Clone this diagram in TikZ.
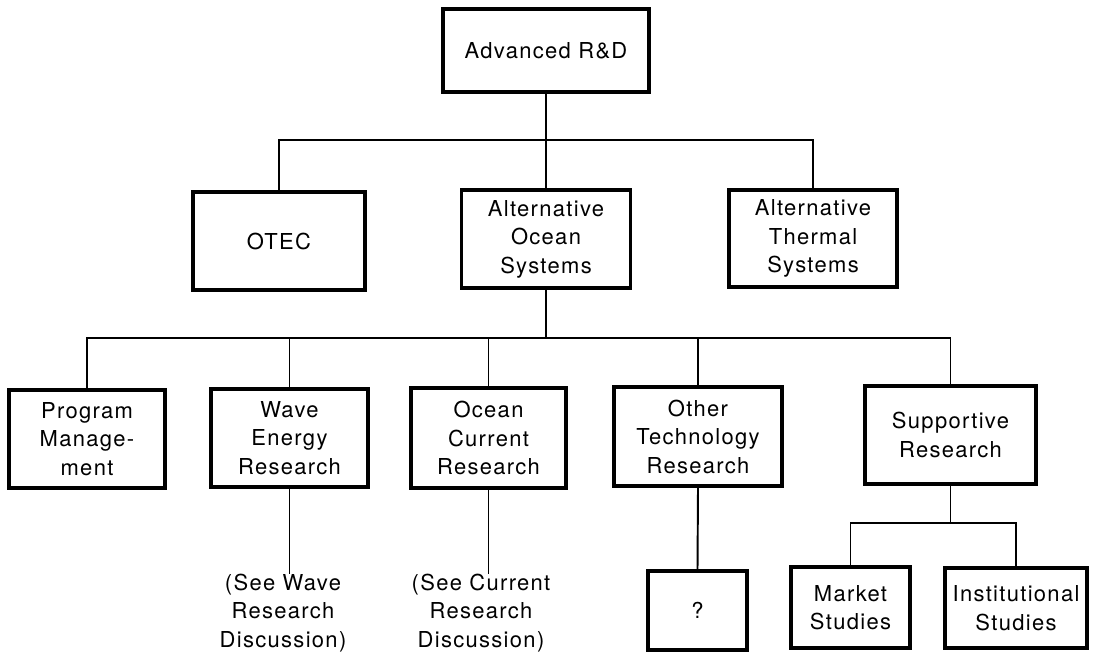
\documentclass[tikz,border=0pt]{standalone}
\usepackage{fontspec}
\setmainfont{TeX Gyre Heros}[LetterSpace=6]
\begin{document}
\begin{tikzpicture}[x=0.02cm,y=-0.02cm,
    box/.style={draw, line width=1.8pt, align=center, inner sep=0pt,
                font=\fontsize{12.5}{16.2}\selectfont},
    note/.style={align=center, inner sep=0pt, font=\fontsize{12.5}{16.2}\selectfont},
    link/.style={line width=1.1pt}]
\useasboundingbox (0,0) rectangle (1095,652);

% top
\node[box, minimum width=4.12cm, minimum height=1.66cm] (rd) at (546,50.5) {Advanced R\&D};

% second row
\node[box, minimum width=3.44cm, minimum height=1.96cm] (otec) at (279,241) {OTEC};
\node[box, minimum width=3.38cm, minimum height=1.96cm] (aos) at (546,239) {Alternative\\Ocean\\Systems};
\node[box, minimum width=3.36cm, minimum height=1.94cm] (ats) at (813,238.5) {Alternative\\Thermal\\Systems};

% third row
\node[box, minimum width=3.12cm, minimum height=1.96cm] (prog) at (87,439) {Program\\Manage-\\ment};
\node[box, minimum width=3.14cm, minimum height=1.96cm] (wave) at (289.5,438) {Wave\\Energy\\Research};
\node[box, minimum width=3.10cm, minimum height=2.00cm] (ocur) at (488.5,438) {Ocean\\Current\\Research};
\node[box, minimum width=3.36cm, minimum height=1.98cm] (other) at (698,436.5) {Other\\Technology\\Research};
\node[box, minimum width=3.42cm, minimum height=1.96cm] (supp) at (950.5,435) {Supportive\\Research};

% bottom row
\node[note] (seewave) at (283,613) {(See Wave\\Research\\Discussion)};
\node[note] (seecur) at (481,613) {(See Current\\Research\\Discussion)};
\node[box, minimum width=1.98cm, minimum height=1.58cm] (unknown) at (697.5,610.5) {?};
\node[box, minimum width=2.38cm, minimum height=1.62cm] (market) at (850.5,607.5) {Market\\Studies};
\node[box, minimum width=2.84cm, minimum height=1.60cm] (inst) at (1016,608) {Institutional\\Studies};

% buses
\coordinate (busA) at (546,140);
\coordinate (busB) at (546,338);
\coordinate (busC) at (946,523);

% connections
\draw[link] (rd.south) -- (aos.north);
\draw[link] (otec.north) |- (busA) -| (ats.north);

\draw[link] (aos.south) -- (busB);
\draw[link] (prog.north) |- (busB) -| (supp.north);
\draw[link] (wave.north) -- (wave.north |- busB);
\draw[link] (ocur.north) -- (ocur.north |- busB);
\draw[link] (other.north) -- (other.north |- busB);

\draw[link] (wave.south) -- (wave.south |- seewave.north);
\draw[link] (ocur.south) -- (ocur.south |- seecur.north);
\draw[link] (other.south) -- (unknown.north);
\draw[link] (supp.south) -- (supp.south |- busC);
\draw[link] (market.north) |- (busC) -| (inst.north);
\end{tikzpicture}
\end{document}
